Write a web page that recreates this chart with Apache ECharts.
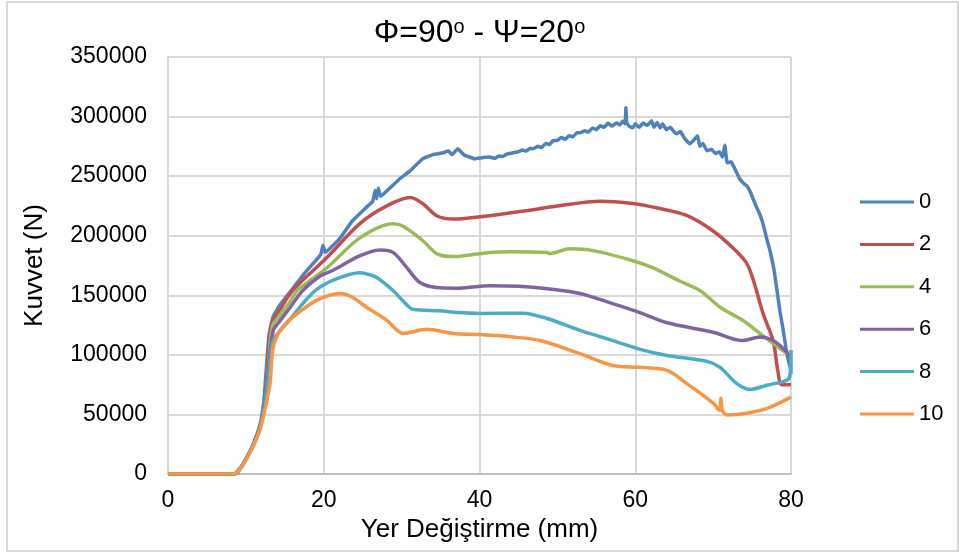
<!DOCTYPE html>
<html>
<head>
<meta charset="utf-8">
<script src="https://cdn.jsdelivr.net/npm/echarts@6/dist/echarts.min.js"></script>
<style>
  html, body { margin: 0; padding: 0; background: #ffffff; }
  #chart { width: 959px; height: 553px; }
</style>
</head>
<body>
<div id="chart"></div>
<script>
// Force–displacement curves, one per offset value (legend 0 … 10)
const seriesNames = ['0', '2', '4', '6', '8', '10'];
const seriesColors = ['#4F81BD', '#C0504D', '#9BBB59', '#8064A2', '#4BACC6', '#F79646'];

const xTicks = [0, 20, 40, 60, 80];
const yTicks = [0, 50000, 100000, 150000, 200000, 250000, 300000, 350000];

// [displacement mm, force N]
const curve0 = [
  [0,0],[8.5,0],[9.6,8000],[10.9,24000],[11.8,40000],[12.3,60000],[12.7,95000],[13.0,118000],
  [13.5,132000],[14.4,142000],[15.7,153000],[17.6,169000],[19.6,184000],[19.9,192000],[20.2,186000],
  [22.1,198000],[23.7,212600],[25.5,224000],[26.3,229000],[26.6,238000],[26.8,231000],[27.0,240000],
  [27.3,233000],[28.5,240000],[29.8,248000],[31.0,254000],[32.7,264500],[34.0,268000],[35.3,269600],
  [36.0,271000],[36.5,268000],[37.2,273000],[38.0,268000],[39.4,264500],[40.3,265500],[41.3,266000],
  [42.0,265000],[42.5,267000],[43.0,266500],[43.5,268500],[44.3,269600],[45.0,270500],[45.5,272000],
  [46.0,271000],[46.5,273500],[46.9,273000],[47.5,275000],[48.0,274000],[48.5,277500],[49.0,276500],
  [49.4,279700],[50.0,280000],[50.5,282500],[51.0,281000],[51.5,284000],[52.0,283000],[52.5,286500],
  [52.9,286400],[53.5,288000],[54.0,287000],[54.5,290500],[55.0,289000],[55.5,292200],[56.0,291000],
  [56.5,294500],[57.0,292000],[57.6,294700],[58.0,293000],[58.4,296000],[58.7,294000],[58.8,307300],
  [58.9,295000],[59.2,292000],[59.7,290600],[60.0,294000],[60.5,291000],[61.0,294500],[61.5,292500],
  [62.1,296400],[62.4,291000],[62.8,295000],[63.2,290500],[63.5,293900],[64.0,289000],[64.5,291000],
  [65.0,287000],[65.3,285500],[65.8,287500],[66.3,282000],[67.0,277100],[67.5,280000],[68.0,283800],
  [68.3,275000],[68.7,277500],[69.2,271300],[69.8,272500],[70.3,269000],[70.8,270500],[71.2,266000],
  [71.5,276000],[71.8,261200],[72.3,262000],[72.8,256000],[73.4,247800],[73.9,244000],[74.3,242000],
  [74.7,237800],[75.2,230000],[75.6,223600],[76.0,218000],[76.4,210200],[76.9,197000],[77.3,187600],
  [77.8,172000],[78.2,154100],[78.6,136000],[79.0,120600],[79.5,100000],[80.0,87000]
];

const curve2 = [
  [0,0],[8.5,0],[9.6,8000],[10.9,24000],[11.8,40000],[12.5,60000],[12.9,105000],[13.3,126000],
  [14.2,136000],[16.0,154000],[20.4,181700],[24.6,210000],[28.1,225000],[31.1,232000],[32.7,227000],
  [34.5,216800],[36.6,214000],[41.3,216800],[46.0,221000],[50.0,225000],[55.5,229000],[59.7,227000],
  [63.0,223000],[66.6,217000],[70.0,204000],[72.5,190000],[74.3,177000],[75.2,162000],[76.4,135000],
  [77.7,112000],[78.3,87000],[78.8,75000],[80.0,75000]
];

const curve4 = [
  [0,0],[8.5,0],[9.6,8000],[10.9,24000],[11.8,40000],[12.5,60000],[13.0,100000],[13.4,124000],
  [14.2,132000],[15.7,145000],[16.6,154000],[20.4,173000],[24.6,198000],[28.9,210000],[30.2,208000],
  [32.7,196000],[34.5,185000],[36.6,182500],[41.3,186000],[44.0,186500],[48.7,186000],[49.0,185000],
  [51.6,189000],[54.6,187500],[59.7,179000],[62.3,173000],[65.7,162000],[68.3,154000],[70.9,140000],
  [73.8,129000],[76.4,116000],[79.5,101000],[80.0,99000]
];

const curve6 = [
  [0,0],[8.5,0],[9.6,8000],[10.9,24000],[11.8,40000],[12.5,59000],[13.0,95000],[13.5,120000],
  [14.2,127000],[15.7,140000],[17.3,154000],[19.5,166000],[21.2,171000],[24.6,183000],[27.2,188000],
  [28.9,186000],[30.7,173000],[32.3,161000],[34.5,156500],[37.0,156000],[41.3,158000],[45.0,157500],
  [48.7,155500],[52.9,151500],[57.1,143000],[60.6,135500],[64.1,127000],[70.0,119000],[73.8,112000],
  [76.0,115000],[77.7,112000],[79.5,102000],[80.0,96000]
];

const curve8 = [
  [0,0],[8.5,0],[9.6,7800],[10.9,23500],[11.8,39000],[12.5,58000],[13.0,85000],[13.4,110000],
  [14.1,118000],[15.7,130000],[17.3,143000],[19.1,155000],[21.7,164000],[24.6,169000],[25.5,168000],
  [26.8,165000],[28.9,154000],[30.5,143000],[31.5,138000],[34.9,137000],[37.2,135500],[40.0,134800],
  [45.6,135000],[48.7,130500],[52.9,120500],[57.1,112000],[61.0,104000],[64.1,99500],[69.2,94500],
  [70.9,89500],[73.0,76000],[74.7,71000],[76.9,74500],[79.8,81000],[80.0,104000],[80.0,84000]
];

const curve10 = [
  [0,0],[8.4,0],[9.6,7500],[10.9,22600],[11.8,37000],[12.5,56000],[13.1,76000],[13.5,106000],
  [14.4,120500],[16.0,131500],[19.1,145700],[22.1,151500],[23.5,149000],[25.5,140000],[28.1,129000],
  [30.2,118000],[33.2,121400],[36.6,118000],[40.0,117000],[44.3,115000],[47.8,112000],[52.9,101000],
  [57.1,91000],[60.6,89500],[64.1,87000],[66.6,76000],[70.0,59500],[70.8,53500],[71.0,63500],
  [71.2,53000],[71.8,49500],[74.3,51000],[77.3,56000],[80.0,64500]
];

const curves = [curve0, curve2, curve4, curve6, curve8, curve10];

const FONT = '"Liberation Sans", Arial, sans-serif';
const chart = echarts.init(document.getElementById('chart'), null, { renderer: 'canvas' });

chart.setOption({
  animation: false,
  backgroundColor: '#ffffff',
  title: {
    text: 'Φ=90{sup|o} - Ψ=20{sup|o}',
    left: 'center',
    top: 12,
    textStyle: {
      fontFamily: FONT,
      fontSize: 32,
      fontWeight: 'normal',
      color: '#000000',
      rich: {
        sup: { fontFamily: FONT, fontSize: 20, verticalAlign: 'top', padding: [0, 0, 12, 0], color: '#000000' }
      }
    }
  },
  graphic: [{
    type: 'rect',
    silent: true,
    shape: { x: 7, y: 2, width: 951, height: 549 },
    style: { fill: 'none', stroke: '#d9d9d9', lineWidth: 2 }
  }],
  legend: {
    orient: 'vertical',
    left: 855,
    top: 186,
    icon: 'rect',
    itemWidth: 54,
    itemHeight: 3,
    itemGap: 20.4,
    data: seriesNames,
    textStyle: { fontFamily: FONT, fontSize: 22, color: '#000000' }
  },
  grid: { left: 168, right: 168, top: 57, bottom: 79 },
  xAxis: {
    type: 'value',
    min: xTicks[0],
    max: xTicks[xTicks.length - 1],
    interval: 20,
    name: 'Yer Değiştirme (mm)',
    nameLocation: 'middle',
    nameGap: 36,
    nameTextStyle: { fontFamily: FONT, fontSize: 26, color: '#000000' },
    axisLine: { show: true, lineStyle: { color: '#bfbfbf', width: 2 } },
    axisTick: { show: false },
    axisLabel: { fontFamily: FONT, fontSize: 23, color: '#000000', margin: 15 },
    splitLine: { show: true, lineStyle: { color: '#d9d9d9', width: 2 } }
  },
  yAxis: {
    type: 'value',
    min: yTicks[0],
    max: yTicks[yTicks.length - 1],
    interval: 50000,
    name: 'Kuvvet (N)',
    nameLocation: 'middle',
    nameGap: 120,
    nameTextStyle: { fontFamily: FONT, fontSize: 26, color: '#000000' },
    axisLine: { show: true, lineStyle: { color: '#d9d9d9', width: 2 } },
    axisTick: { show: false },
    axisLabel: {
      fontFamily: FONT, fontSize: 23, color: '#000000', margin: 21,
      formatter: (v) => String(v)
    },
    splitLine: { show: true, lineStyle: { color: '#d9d9d9', width: 2 } }
  },
  series: curves.map((data, i) => ({
    name: seriesNames[i],
    type: 'line',
    data: data,
    showSymbol: false,
    symbol: 'none',
    smooth: i === 0 ? 0.1 : 0.3,
    color: seriesColors[i],
    lineStyle: { color: seriesColors[i], width: 3.5 }
  }))
});
</script>
</body>
</html>
